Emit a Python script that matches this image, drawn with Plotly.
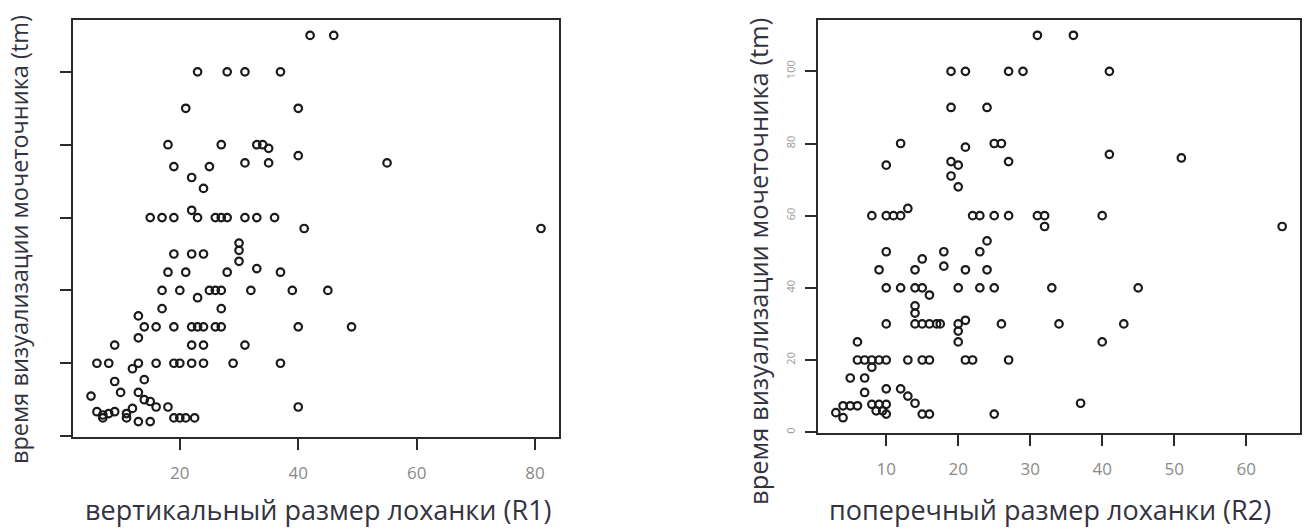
import plotly.graph_objects as go

# ---- data: left panel (R1 vs tm) ----
r1 = [42, 46,
      23, 28, 31, 37,
      21, 40,
      18, 27, 33, 34, 35, 40, 55,
      19, 25, 31, 35, 22, 24,
      15, 17, 19, 23, 26, 27, 28, 31, 33, 36, 22,
      41, 81,
      30, 30, 19, 22, 24, 30, 33, 18, 21, 28, 37,
      17, 20, 25, 26, 27, 32, 39, 45, 23,
      17, 27, 13,
      14, 16, 19, 22, 23, 24, 26, 27, 40, 49,
      13, 9, 22, 24, 31,
      6, 8, 13, 16, 19, 20, 22, 24, 29, 37, 12,
      9, 14, 5, 10, 13, 14, 15, 16, 18, 40,
      6, 7, 8, 9, 11, 12, 11, 7, 13, 15, 19, 20, 21, 22.5]
tm1 = [110, 110,
       100, 100, 100, 100,
       90, 90,
       80, 80, 80, 80, 79, 77, 75,
       74, 74, 75, 75, 71, 68,
       60, 60, 60, 60, 60, 60, 60, 60, 60, 60, 62,
       57, 57,
       53, 51, 50, 50, 50, 48, 46, 45, 45, 45, 45,
       40, 40, 40, 40, 40, 40, 40, 40, 38,
       35, 35, 33,
       30, 30, 30, 30, 30, 30, 30, 30, 30, 30,
       27, 25, 25, 25, 25,
       20, 20, 20, 20, 20, 20, 20, 20, 20, 20, 18.5,
       15, 15.5, 11, 12, 12, 10, 9.5, 8, 8, 8,
       6.7, 5.8, 6.2, 6.7, 6.2, 7.6, 5, 5, 4, 4, 5, 5, 5, 5]

# ---- data: right panel (R2 vs tm) ----
r2 = [31, 36,
      19, 21, 27, 29, 41,
      19, 24,
      12, 21, 25, 26, 10, 19, 20, 27, 41, 51, 19, 20,
      8, 10, 11, 12, 13, 22, 23, 25, 27, 31, 32, 40, 32, 65,
      24, 10, 18, 23, 15, 18, 9, 14, 21, 24,
      10, 12, 14, 15, 16, 20, 23, 25, 33, 45,
      14, 14,
      10, 14, 15, 16, 17, 17.5, 20, 21, 26, 34, 43,
      20, 20, 6, 40,
      6, 7, 8, 9, 10, 13, 15, 16, 21, 22, 27, 8,
      5, 7, 10, 12, 7, 13, 14, 37,
      3, 4, 5, 6, 4, 8, 9, 10, 8.6, 9.5, 10, 15, 16, 25]
tm2 = [110, 110,
       100, 100, 100, 100, 100,
       90, 90,
       80, 79, 80, 80, 74, 75, 74, 75, 77, 76, 71, 68,
       60, 60, 60, 60, 62, 60, 60, 60, 60, 60, 60, 60, 57, 57,
       53, 50, 50, 50, 48, 46, 45, 45, 45, 45,
       40, 40, 40, 40, 38, 40, 40, 40, 40, 40,
       35, 33,
       30, 30, 30, 30, 30, 30, 30, 31, 30, 30, 30,
       28, 25, 25, 25,
       20, 20, 20, 20, 20, 20, 20, 20, 20, 20, 20, 18,
       15, 15, 12, 12, 11, 10, 8, 8,
       5.4, 7.3, 7.3, 7.3, 4, 7.7, 7.7, 7.7, 5.9, 5.9, 5, 5, 5, 5]

x1_ticks = [20, 40, 60, 80]
x2_ticks = [10, 20, 30, 40, 50, 60]
y_ticks = [0, 20, 40, 60, 80, 100]
y_ticklabels = ["0", "20", "40", "60", "80", "100"]

x1_title = "вертикальный размер лоханки (R1)"
x2_title = "поперечный размер лоханки (R2)"
y_title = "время визуализации мочеточника (tm)"


def rng(vals):
    lo, hi = min(vals), max(vals)
    pad = 0.04 * (hi - lo)
    return [lo - pad, hi + pad]


W, H = 1310, 531

marker = dict(symbol="circle-open", size=7.5, color="#1a1a1a", line=dict(width=2.2, color="#1a1a1a"))

fig = go.Figure()
fig.add_trace(go.Scatter(x=r1, y=tm1, mode="markers", marker=marker, xaxis="x", yaxis="y",
                         showlegend=False))
fig.add_trace(go.Scatter(x=r2, y=tm2, mode="markers", marker=marker, xaxis="x2", yaxis="y2",
                         showlegend=False))

axis_common = dict(showline=True, mirror=True, linecolor="#2b2b2b", linewidth=2,
                   showgrid=False, zeroline=False, ticks="outside", ticklen=11,
                   tickwidth=2, tickcolor="#2b2b2b",
                   tickfont=dict(family="Open Sans", size=17, color="#8a8a8a"))

fig.update_layout(
    width=W, height=H,
    margin=dict(l=0, r=0, t=0, b=0),
    paper_bgcolor="white", plot_bgcolor="white",
    xaxis=dict(domain=[73 / W, 559 / W], range=rng(r1), tickvals=x1_ticks,
               anchor="y", ticklabelstandoff=9, **axis_common),
    yaxis=dict(domain=[1 - 437 / H, 1 - 20 / H], range=rng(tm1), tickvals=y_ticks,
               showticklabels=False, anchor="x", **axis_common),
    xaxis2=dict(domain=[818 / W, 1300 / W], range=rng(r2), tickvals=x2_ticks,
                anchor="y2", ticklabelstandoff=9, **axis_common),
    yaxis2=dict(domain=[1 - 433 / H, 1 - 20 / H], range=rng(tm2), tickvals=y_ticks,
                ticktext=y_ticklabels, tickangle=-90, anchor="x2",
                ticklabelstandoff=6, **{**axis_common,
                   "tickfont": dict(family="Open Sans", size=11, color="#9a9a9a")}),
    annotations=[
        dict(text=x1_title, x=318 / W, y=1 - 509 / H, xref="paper", yref="paper",
             showarrow=False, font=dict(family="Open Sans", size=27, color="#33333f"),
             xanchor="center", yanchor="middle"),
        dict(text=x2_title, x=1050 / W, y=1 - 509 / H, xref="paper", yref="paper",
             showarrow=False, font=dict(family="Open Sans", size=27, color="#33333f"),
             xanchor="center", yanchor="middle"),
        dict(text=y_title, x=19 / W, y=1 - 240 / H, xref="paper", yref="paper",
             showarrow=False, textangle=-90,
             font=dict(family="Open Sans", size=23.5, color="#33333f"),
             xanchor="center", yanchor="middle"),
        dict(text=y_title, x=758 / W, y=1 - 262 / H, xref="paper", yref="paper",
             showarrow=False, textangle=-90,
             font=dict(family="Open Sans", size=25.5, color="#33333f"),
             xanchor="center", yanchor="middle"),
    ],
)

fig.write_html("out.html")
